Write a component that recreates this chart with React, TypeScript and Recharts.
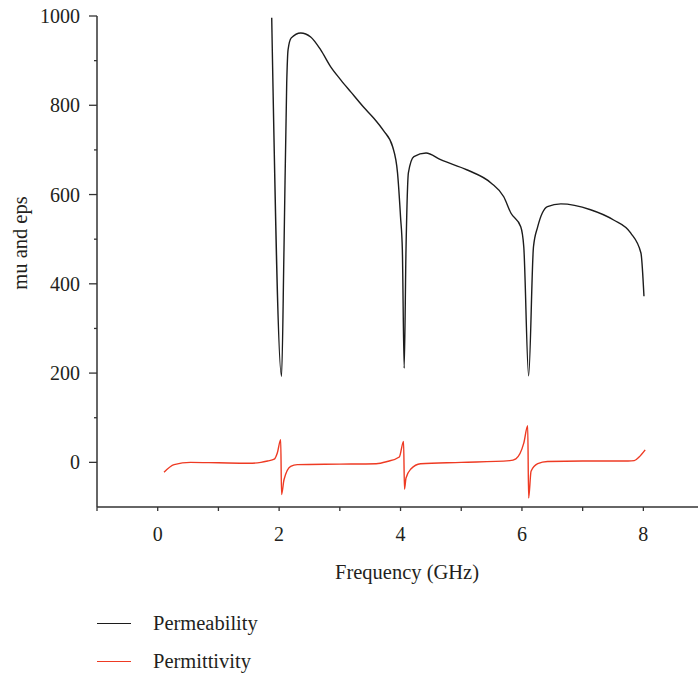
import React from "react";
import { LineChart, Line, XAxis, YAxis } from "recharts";

// permeability (black)
const muFreq = [1.878, 2.04, 2.08, 2.125, 2.147, 2.2, 2.356, 2.52, 2.685, 2.85, 3.015, 3.18, 3.39, 3.56, 3.72, 3.87, 3.95, 4.0, 4.03, 4.06, 4.09, 4.13, 4.22, 4.42, 4.66, 5.1, 5.49, 5.7, 5.82, 5.98, 6.03, 6.11, 6.19, 6.26, 6.42, 6.64, 7.13, 7.51, 7.79, 7.96, 8.01];
const muValue = [996, 193, 476, 850, 924, 951, 962, 953, 924, 886, 857, 830, 796, 771, 743, 707, 649, 550, 476, 211, 476, 649, 685, 693, 678, 655, 626, 595, 558, 528, 483, 194, 483, 528, 573, 579, 566, 543, 514, 469, 372];

// permittivity (red)
const epsFreq = [0.104, 0.27, 0.54, 1.0, 1.5, 1.7, 1.81, 1.92, 1.97, 2.026, 2.04, 2.08, 2.19, 2.3, 3.0, 3.6, 3.78, 3.98, 4.05, 4.065, 4.09, 4.17, 4.33, 5.0, 5.8, 5.9, 6.03, 6.095, 6.11, 6.15, 6.26, 6.42, 7.0, 7.75, 7.85, 7.93, 8.03];
const epsValue = [-22, -5, 0, -1, -2, 0, 3, 7, 21, 51, -72, -39, -9, -5, -4, -3, 2, 12, 47, -60, -35, -15, -3, 0, 4, 8, 43, 82, -80, -20, -3, 2, 3, 3, 4, 12, 28];

const xTicks = [-1, 0, 1, 2, 3, 4, 5, 6, 7, 8];
const xLabeled = [0, 2, 4, 6, 8];
const yTicks = [0, 100, 200, 300, 400, 500, 600, 700, 800, 900, 1000];
const yLabeled = [0, 200, 400, 600, 800, 1000];

const muData = muFreq.map((f, i) => ({ f, v: muValue[i] }));
const epsData = epsFreq.map((f, i) => ({ f, v: epsValue[i] }));

const FONT = "'Liberation Serif', 'Times New Roman', serif";
const TEXT = "#231f20";
const AXIS = "#333";
const BLACK = "#1c1c1c";
const RED = "#ee3a23";

const YTick = ({ x, y, payload }: any) => {
    const major = yLabeled.includes(payload.value);
    return (
        <g>
            <line x1={x - (major ? 8 : 3)} x2={x} y1={y} y2={y} stroke={AXIS} strokeWidth={1.3} />
            {major && (
                <text x={x - 17} y={y} dy="0.35em" textAnchor="end" fontFamily={FONT} fontSize={20} fill={TEXT}>
                    {payload.value}
                </text>
            )}
        </g>
    );
};

const XTick = ({ x, y, payload }: any) => {
    const major = xLabeled.includes(payload.value);
    return (
        <g>
            <line x1={x} x2={x} y1={y} y2={y + 4} stroke={AXIS} strokeWidth={1.3} />
            {major && (
                <text x={x} y={y + 34} textAnchor="middle" fontFamily={FONT} fontSize={20} fill={TEXT}>
                    {payload.value}
                </text>
            )}
        </g>
    );
};

export default function App() {
    return (
        <div style={{ position: "absolute", left: 0, top: 0, width: 698, height: 673, background: "#fff" }}>
            <LineChart width={698} height={673} margin={{ top: 16, right: 0, left: 0, bottom: 0 }}>
                <XAxis
                    type="number"
                    dataKey="f"
                    domain={[-1, 8.9]}
                    allowDataOverflow
                    ticks={xTicks}
                    interval={0}
                    tick={<XTick />}
                    tickLine={false}
                    tickSize={0}
                    tickMargin={0}
                    height={166}
                    stroke={AXIS}
                    strokeWidth={1.5}
                    label={{
                        content: () => (
                            <text x={407} y={579} textAnchor="middle" fontFamily={FONT} fontSize={20.5} fill={TEXT}>
                                Frequency (GHz)
                            </text>
                        ),
                    }}
                />
                <YAxis
                    type="number"
                    dataKey="v"
                    domain={[-100, 1000]}
                    allowDataOverflow
                    ticks={yTicks}
                    interval={0}
                    tick={<YTick />}
                    tickLine={false}
                    tickSize={0}
                    tickMargin={0}
                    width={97}
                    stroke={AXIS}
                    strokeWidth={1.5}
                    label={{
                        content: () => (
                            <text x={20} y={243} transform="rotate(-90 20 243)" textAnchor="middle" dy="0.35em" fontFamily={FONT} fontSize={20.5} fill={TEXT}>
                                mu and eps
                            </text>
                        ),
                    }}
                />
                <Line data={muData} dataKey="v" type="monotone" stroke={BLACK} strokeWidth={1.4} dot={false} isAnimationActive={false} />
                <Line data={epsData} dataKey="v" type="monotone" stroke={RED} strokeWidth={1.4} dot={false} isAnimationActive={false} />
            </LineChart>
            <div style={{ position: "absolute", left: 97, top: 608, fontFamily: FONT, fontSize: 20.5, color: TEXT }}>
                <div style={{ display: "flex", alignItems: "center", height: 30 }}>
                    <span style={{ width: 34, borderTop: `1.5px solid ${BLACK}`, marginRight: 22 }} />
                    Permeability
                </div>
                <div style={{ display: "flex", alignItems: "center", height: 30, marginTop: 8 }}>
                    <span style={{ width: 34, borderTop: `1.5px solid ${RED}`, marginRight: 22 }} />
                    Permittivity
                </div>
            </div>
        </div>
    );
}
